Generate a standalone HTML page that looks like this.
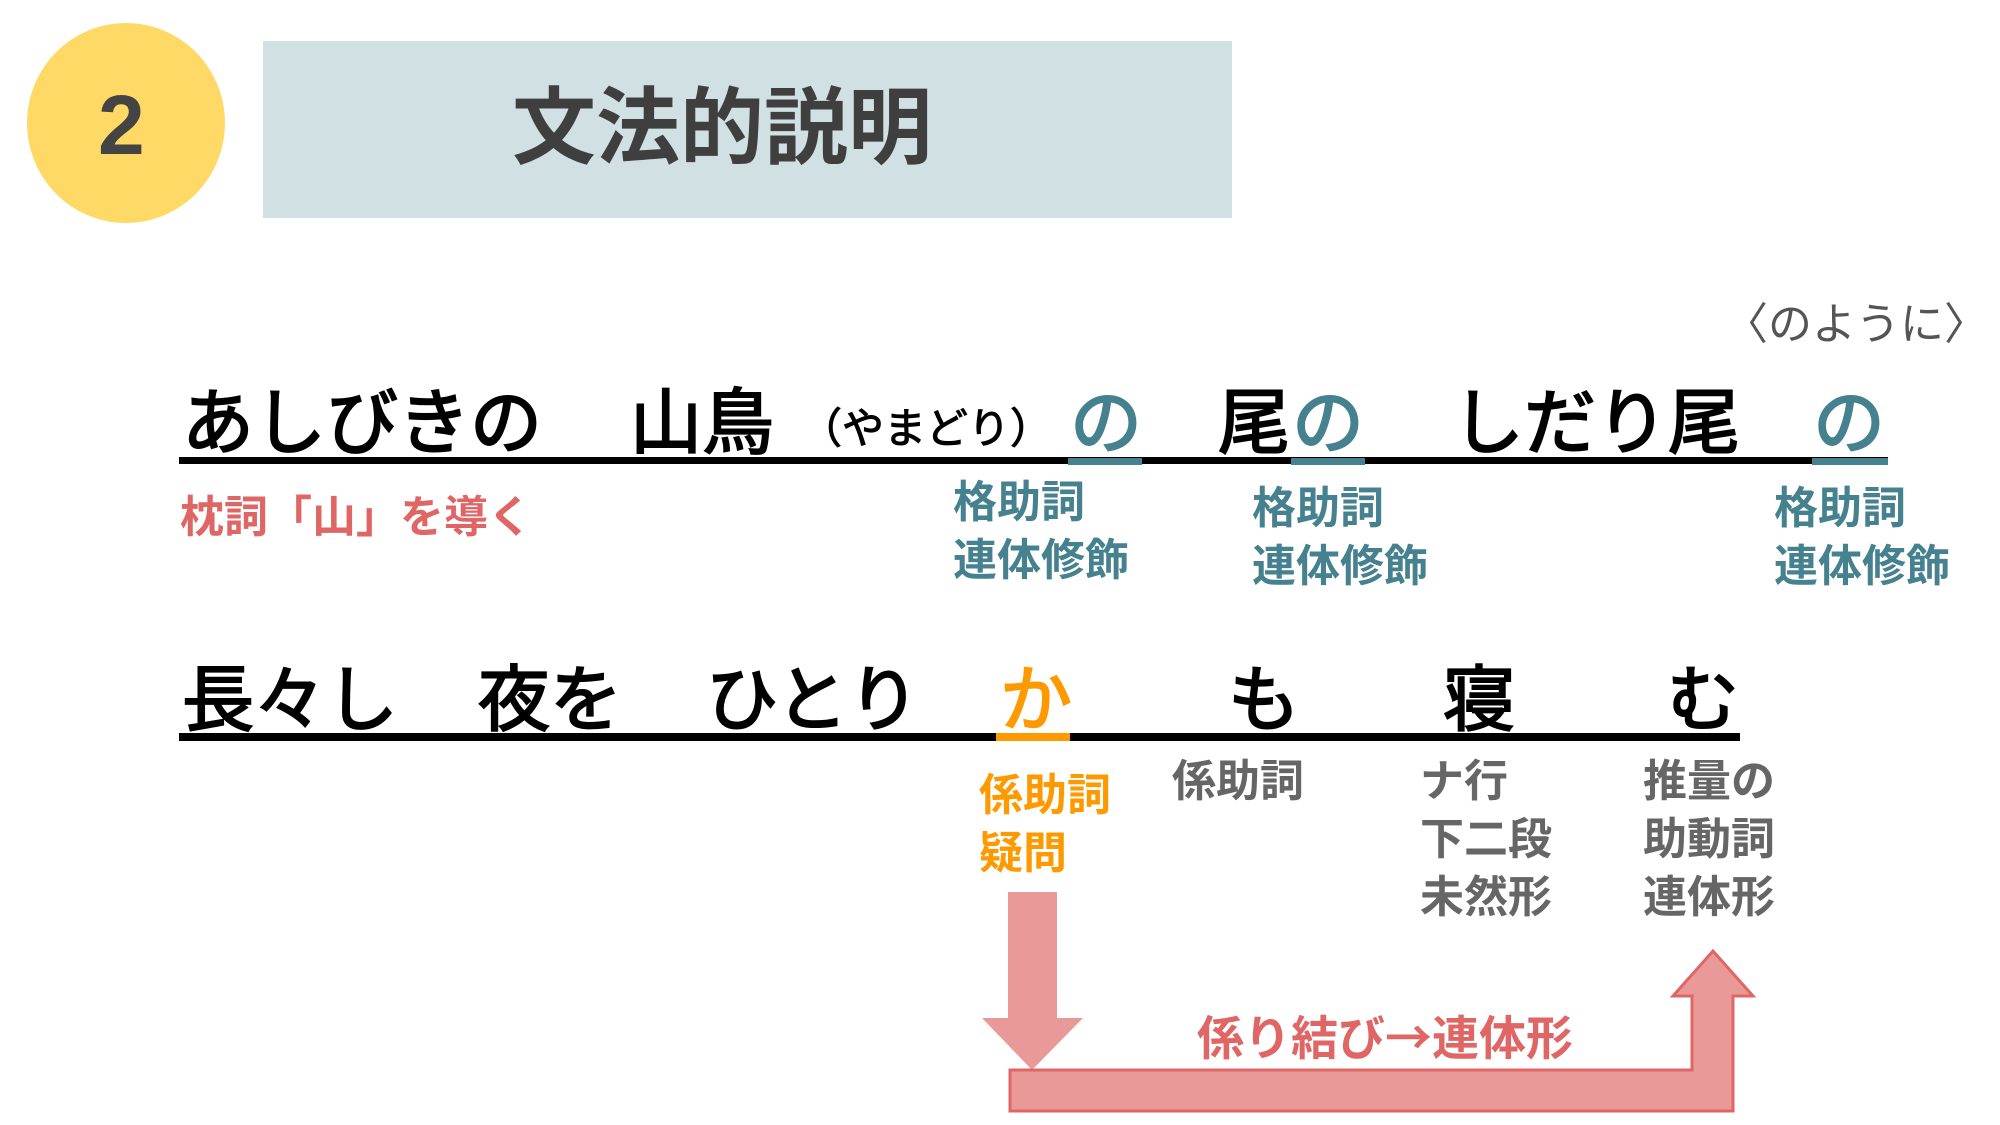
<!DOCTYPE html>
<html><head><meta charset="utf-8"><style>
html,body{margin:0;padding:0;background:#fff;}
body{width:2000px;height:1125px;position:relative;overflow:hidden;}
.t{position:absolute;white-space:nowrap;line-height:1;font-family:"Liberation Sans","Noto Sans CJK JP",sans-serif;font-weight:bold;}
.k{color:#000;font-size:72px;font-weight:normal;-webkit-text-stroke:2px #000;}
.tl{color:#45818E;font-size:44px;line-height:58px;}
.gr{color:#666;font-size:44px;line-height:58px;}
.or{color:#FF9900;font-size:44px;line-height:58px;}
.ln{position:absolute;background:#000;}
</style></head><body>
<div style="position:absolute;left:27px;top:23px;width:198px;height:200px;border-radius:50%;background:#FFD966;"></div>
<div class="t" style="left:98px;top:83px;font-size:84px;color:#444;">2</div>
<div style="position:absolute;left:263px;top:41px;width:969px;height:177px;background:#D0E0E3;"></div>
<div class="t" style="left:512px;top:86px;font-size:84px;color:#3f3f3f;">文法的説明</div>
<div class="t" style="left:1724px;top:303px;font-size:44px;color:#555;font-weight:normal;">〈のように〉</div>

<!-- line 1 -->
<div class="ln" style="left:179px;top:457px;width:1709px;height:7px;"></div>
<div class="ln" style="left:1068px;top:458px;width:74px;height:7px;background:#45818E;"></div>
<div class="ln" style="left:1291px;top:458px;width:74px;height:7px;background:#45818E;"></div>
<div class="ln" style="left:1812px;top:458px;width:76px;height:7px;background:#45818E;"></div>
<div class="t k" style="left:182px;top:388px;">あしびきの</div>
<div class="t k" style="left:630px;top:388px;">山鳥</div>
<div class="t k" style="left:800px;top:408px;font-size:42px;-webkit-text-stroke:1px #000;">（やまどり）</div>
<div class="t k" style="left:1070px;top:388px;color:#45818E;-webkit-text-stroke:2px #45818E;">の</div>
<div class="t k" style="left:1218px;top:388px;">尾</div>
<div class="t k" style="left:1292px;top:388px;color:#45818E;-webkit-text-stroke:2px #45818E;">の</div>
<div class="t k" style="left:1452px;top:388px;">しだり尾</div>
<div class="t k" style="left:1813px;top:388px;color:#45818E;-webkit-text-stroke:2px #45818E;">の</div>

<div class="t" style="left:180px;top:496px;font-size:44px;color:#E06666;">枕詞「山」を導く</div>
<div class="t tl" style="left:953px;top:474px;">格助詞<br>連体修飾</div>
<div class="t tl" style="left:1252px;top:480px;">格助詞<br>連体修飾</div>
<div class="t tl" style="left:1774px;top:480px;">格助詞<br>連体修飾</div>

<!-- line 2 -->
<div class="ln" style="left:179px;top:733px;width:1561px;height:8px;"></div>
<div class="ln" style="left:996px;top:733px;width:74px;height:8px;background:#FF9900;"></div>
<div class="t k" style="left:182px;top:665px;">長々し</div>
<div class="t k" style="left:478px;top:665px;">夜を</div>
<div class="t k" style="left:706px;top:665px;">ひとり</div>
<div class="t k" style="left:1000px;top:665px;color:#FF9900;-webkit-text-stroke:2px #FF9900;">か</div>
<div class="t k" style="left:1228px;top:665px;">も</div>
<div class="t k" style="left:1443px;top:665px;">寝</div>
<div class="t k" style="left:1667px;top:665px;">む</div>

<div class="t or" style="left:979px;top:767px;">係助詞<br>疑問</div>
<div class="t gr" style="left:1172px;top:753px;">係助詞</div>
<div class="t gr" style="left:1420px;top:753px;">ナ行<br>下二段<br>未然形</div>
<div class="t gr" style="left:1643px;top:753px;">推量の<br>助動詞<br>連体形</div>

<svg style="position:absolute;left:0;top:0" width="2000" height="1125">
<polygon points="1008,892 1057,892 1057,1018 1083,1018 1032,1070 982,1018 1008,1018" fill="#EA9999"/>
<polygon points="1010,1070 1692,1070 1692,996 1673,996 1713,951 1753,996 1733,996 1733,1111 1010,1111" fill="#EA9999" stroke="#E06666" stroke-width="3"/>
</svg>
<div class="t" style="left:1197px;top:1011px;font-size:47px;color:#E06666;">係り結び<span style="font-family:'Noto Sans CJK JP',sans-serif;">→</span>連体形</div>
</body></html>
